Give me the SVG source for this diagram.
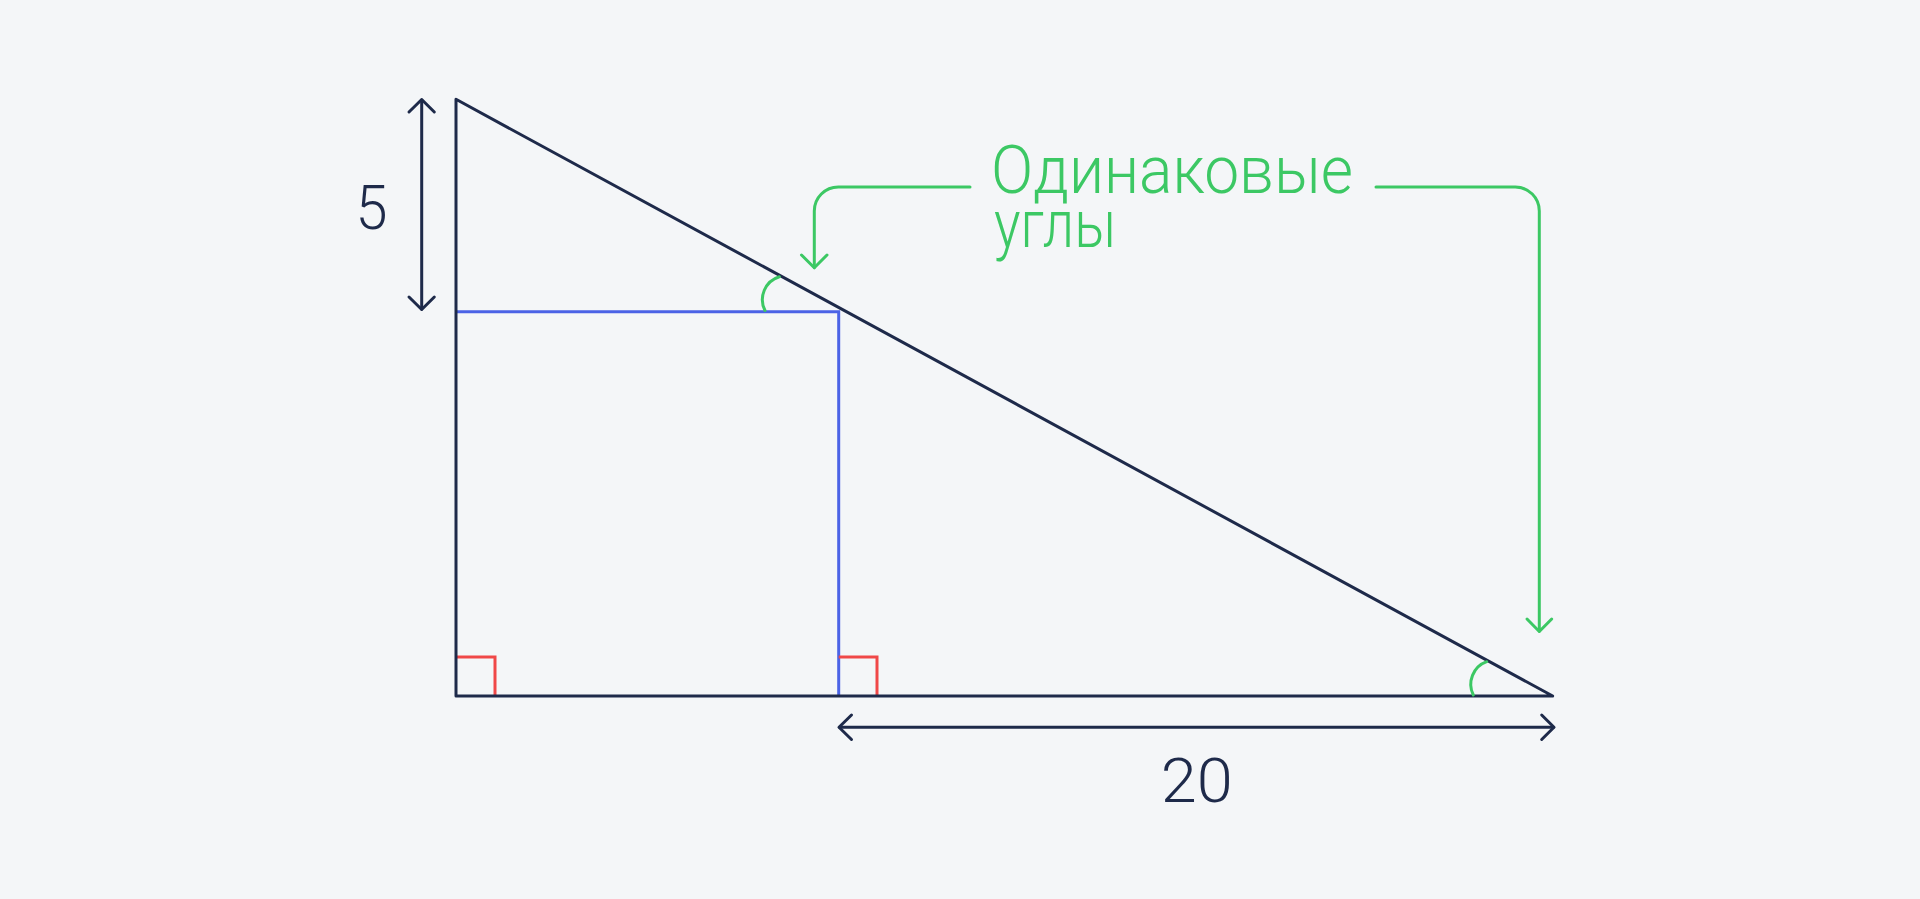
<svg xmlns="http://www.w3.org/2000/svg" width="1920" height="899" viewBox="0 0 1920 899">
<style>
.dark{fill:none;stroke:#1E2A4A;stroke-width:3;stroke-linecap:round;stroke-linejoin:round}
.green{fill:none;stroke:#3CC864;stroke-width:3;stroke-linecap:round;stroke-linejoin:round}
.blue{fill:none;stroke:#4B63E6;stroke-width:3}
.red{fill:none;stroke:#F04848;stroke-width:3}
.num{font-family:Roboto,"Liberation Sans",sans-serif;font-weight:300;font-size:61px;fill:#1E2A4A}
.lbl{font-family:Roboto,"Liberation Sans",sans-serif;font-weight:300;font-size:66px;fill:#3CC864}
</style>
<rect x="0" y="0" width="1920" height="899" fill="#F4F6F8"/>
<g id="square">
<polyline class="blue" points="456,311.7 838.7,311.7 838.7,696"/>
</g>
<g id="right-angles">
<polyline class="red" points="456,657 495,657 495,696"/>
<polyline class="red" points="838.7,657 877,657 877,696"/>
</g>
<g id="triangle">
<polygon class="dark" points="456,99.3 456,696 1552.7,696"/>
</g>
<g id="angles">
<path class="green" d="M779.3 276.7 A24 24 0 0 0 765 310.5"/>
<path class="green" d="M1486.7 661.7 A24 24 0 0 0 1473.3 695"/>
</g>
<g id="connectors">
<path class="dark" d="M421.7 100 V309"/>
<path class="dark" d="M409 112 L421.7 99.5 L434.3 112"/>
<path class="dark" d="M409 297 L421.7 309.5 L434.3 297"/>
<path class="dark" d="M839.5 727.3 H1553.5"/>
<path class="dark" d="M851.5 715 L839 727.3 L851.5 739.5"/>
<path class="dark" d="M1541.7 715 L1554 727.3 L1541.7 739.5"/>
<path class="green" d="M970 187 H838.3 A24 24 0 0 0 814.3 211 V267.5"/>
<path class="green" d="M801.5 255 L814.3 267.8 L827 255"/>
<path class="green" d="M1376 187 H1515.3 A24 24 0 0 1 1539.3 211 V631"/>
<path class="green" d="M1527 619 L1539.3 631.5 L1551.7 619"/>
</g>
<g id="label-5">
<text class="num" x="371.5" y="229.3" text-anchor="middle" textLength="32" lengthAdjust="spacingAndGlyphs">5</text>
</g>
<g id="label-20">
<text class="num" x="1196.7" y="801.7" text-anchor="middle" textLength="72" lengthAdjust="spacingAndGlyphs">20</text>
</g>
<g id="label-angles">
<text class="lbl" x="991" y="193.3" textLength="362" lengthAdjust="spacingAndGlyphs">Одинаковые</text>
<text class="lbl" x="994" y="247.3" textLength="122" lengthAdjust="spacingAndGlyphs">углы</text>
</g>
</svg>
